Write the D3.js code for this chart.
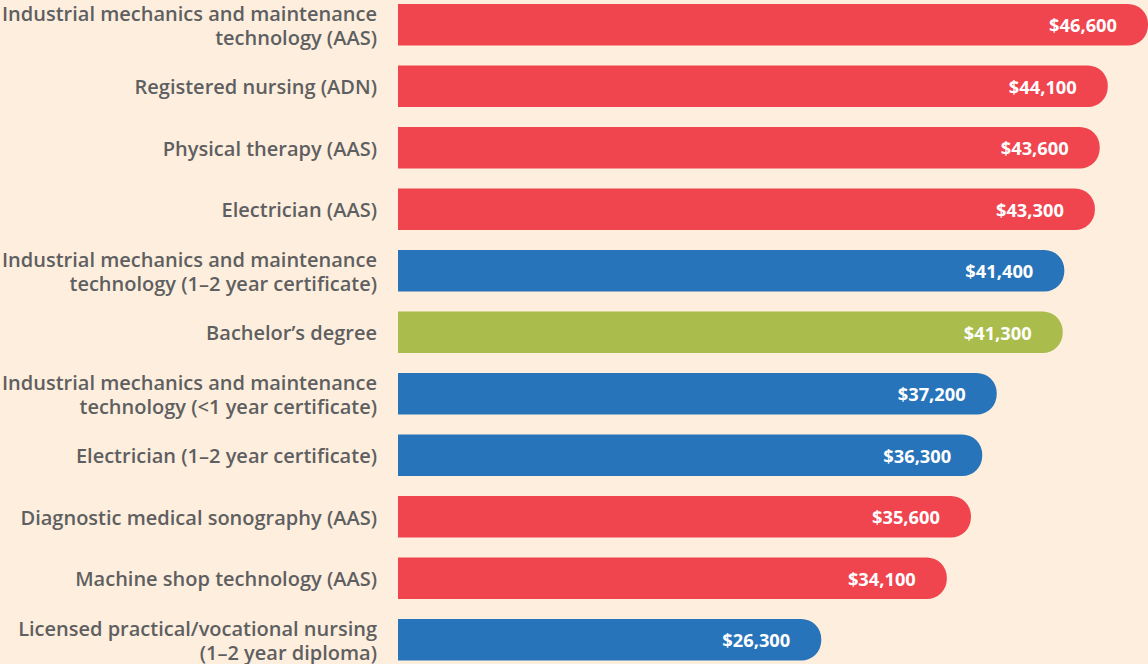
<!DOCTYPE html>
<html>
<head>
<meta charset="utf-8">
<script src="https://cdn.jsdelivr.net/npm/d3@7"></script>
<style>
  body { margin: 0; background: #feeedd; }
  .label { font-family: "Open Sans", sans-serif; font-weight: 600; font-size: 20px; fill: #5e5f61; }
  .value { font-family: "Open Sans", sans-serif; font-weight: 700; font-size: 18.3px; fill: #fff; }
</style>
</head>
<body>
<div id="chart"></div>
<script>
// categories (line breaks as in the original)
var programs = [
  ["Industrial mechanics and maintenance", "technology (AAS)"],
  ["Registered nursing (ADN)"],
  ["Physical therapy (AAS)"],
  ["Electrician (AAS)"],
  ["Industrial mechanics and maintenance", "technology (1\u20132 year certificate)"],
  ["Bachelor\u2019s degree"],
  ["Industrial mechanics and maintenance", "technology (<1 year certificate)"],
  ["Electrician (1\u20132 year certificate)"],
  ["Diagnostic medical sonography (AAS)"],
  ["Machine shop technology (AAS)"],
  ["Licensed practical/vocational nursing", "(1\u20132 year diploma)"]
];
var earnings = [46600, 44100, 43600, 43300, 41400, 41300, 37200, 36300, 35600, 34100, 26300];
var kinds = ["aas", "aas", "aas", "aas", "cert", "ba", "cert", "cert", "aas", "aas", "cert"];

var width = 1148, height = 664;
var margin = {top: 4, left: 398};
var step = 61.5, pad = 0.325;

var colors = {aas: "#f0444f", cert: "#2874ba", ba: "#a9bc4c"};

var x = d3.scaleLinear().domain([0, 46600]).range([0, width - margin.left]);
var y = d3.scaleBand().domain(d3.range(programs.length))
    .range([margin.top, margin.top + step * (programs.length - pad)])
    .paddingInner(pad).paddingOuter(0);

var svg = d3.select("#chart").append("svg")
    .attr("width", width)
    .attr("height", height);

svg.append("rect").attr("width", width).attr("height", height).attr("fill", "#feeedd");

// bar with square left end and rounded right end
function barPath(w, h) {
  var r = Math.min(20, h / 2);
  return "M0,0H" + (w - r) +
    "A" + r + "," + r + " 0 0 1 " + w + "," + r +
    "V" + (h - r) +
    "A" + r + "," + r + " 0 0 1 " + (w - r) + "," + h +
    "H0Z";
}

var rows = svg.selectAll("g.row")
    .data(earnings)
  .enter().append("g")
    .attr("class", "row")
    .attr("transform", function(d, i) { return "translate(" + margin.left + "," + y(i) + ")"; });

rows.append("path")
    .attr("d", function(d) { return barPath(x(d), y.bandwidth()); })
    .attr("fill", function(d, i) { return colors[kinds[i]]; });

rows.append("text")
    .attr("class", "value")
    .attr("x", function(d) { return x(d) - 31; })
    .attr("y", y.bandwidth() / 2 + 1)
    .attr("dy", "0.36em")
    .attr("text-anchor", "end")
    .text(function(d) { return "$" + d3.format(",")(d); });

// category labels
rows.append("text")
    .attr("class", "label")
    .attr("x", -21)
    .attr("text-anchor", "end")
    .selectAll("tspan")
    .data(function(d, i) {
      var lines = programs[i];
      return lines.map(function(t, j) { return {t: t, j: j, n: lines.length}; });
    })
  .enter().append("tspan")
    .attr("x", -21)
    .attr("y", function(l) { return y.bandwidth() / 2 + 1 + (l.j - (l.n - 1) / 2) * 24; })
    .attr("dy", "0.36em")
    .text(function(l) { return l.t; });
</script>
</body>
</html>
